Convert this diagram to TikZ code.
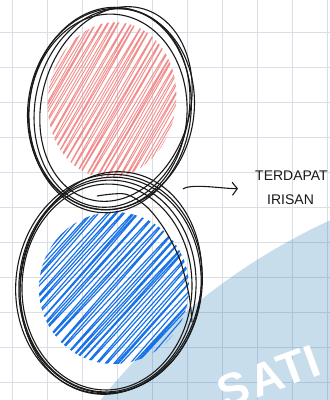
\documentclass[tikz,border=0pt]{standalone}
\usepackage{fontspec}
\setmainfont{Liberation Sans}
\usetikzlibrary{arrows.meta,positioning}
\definecolor{gridgray}{RGB}{218,222,230}
\definecolor{wmblue}{RGB}{40,125,180}
\definecolor{hatchred}{RGB}{242,140,140}
\definecolor{hatchblue}{RGB}{25,115,230}
\definecolor{inkblack}{RGB}{25,25,25}

\begin{document}
\begin{tikzpicture}[
    x=1pt, y=-1pt,
    gridline/.style={draw=gridgray, line width=0.8pt},
    sketch/.style={draw=inkblack, line width=1.1pt},
    redhatch/.style={draw=hatchred, line width=0.9pt, line join=round},
    bluehatch/.style={draw=hatchblue, line width=1.2pt, line join=round},
    note/.style={font=\fontsize{14}{24}\selectfont, text=inkblack, align=left, inner sep=0pt},
    wmtext/.style={font=\fontsize{46}{46}\selectfont\bfseries, text=white, inner sep=0pt},
    arrow/.style={-{Straight Barb[length=5pt,width=13pt]}, sketch}
]
    \pgfmathsetseed{11}
    \useasboundingbox (0,0) rectangle (330,400);
    \clip (0,0) rectangle (330,400);
    \fill[white] (0,0) rectangle (330,400);
    \foreach \i in {0,...,9} \draw[gridline] (12+35*\i,0) -- (12+35*\i,400);
    \foreach \j in {0,...,10} \draw[gridline] (0,32.5+35*\j) -- (330,32.5+35*\j);

    \fill[wmblue, opacity=0.26] (593,793) circle (630);
    \node[wmtext, rotate=20, anchor=base west] (wm) at (224,410) {S\kern4pt ATI};

    \begin{scope}
        \clip[shift={(112,100)}, rotate=-8] (0,0) ellipse [x radius=64, y radius=78];
        \draw[redhatch, shift={(112,100)}, rotate=-30] (-80,-100)
            \foreach \k in {-80,-75,...,80} { -- (\k+1.5*rand,100) -- (\k+3+1.5*rand,-100) };
    \end{scope}
    \begin{scope}
        \clip[shift={(114,288)}, rotate=-10] (0,0) ellipse [x radius=75, y radius=76];
        \draw[bluehatch, shift={(114,288)}, rotate=-42] (-100,-110)
            \foreach \k in {-100,-94,...,100} { -- (\k+2*rand,110) -- (\k+3+2*rand,-110) };
    \end{scope}

    \foreach \cx/\cy/\rx/\ry/\rot in {110/110/81/103/-7, 112/108/77/100/-11, 108/112/79/98/-4, 116/104/74/99/-16, 111/109/83/101/-9}
        \draw[sketch, shift={(\cx,\cy)}, rotate=\rot] (0,0) ellipse [x radius=\rx, y radius=\ry];
    \foreach \cx/\cy/\rx/\ry/\rot in {109/284/93/110/-8, 108/286/88/106/-4, 111/283/90/112/-11, 107/287/85/103/-2, 110/285/91/108/-6}
        \draw[sketch, shift={(\cx,\cy)}, rotate=\rot] (0,0) ellipse [x radius=\rx, y radius=\ry];
    \draw[sketch] plot[smooth] coordinates {(97,196) (125,194) (147,207) (165,230) (180,260) (189,295) (192,322)};

    \coordinate (tail) at (183,189);
    \node[note, anchor=west] (note) at (255,188) {TERDAPAT\\\hspace{12pt}IRISAN};
    \draw[arrow, shorten >=17pt] (tail) .. controls +(8,-6) and +(-30,1) .. (note.west);
\end{tikzpicture}
\end{document}
